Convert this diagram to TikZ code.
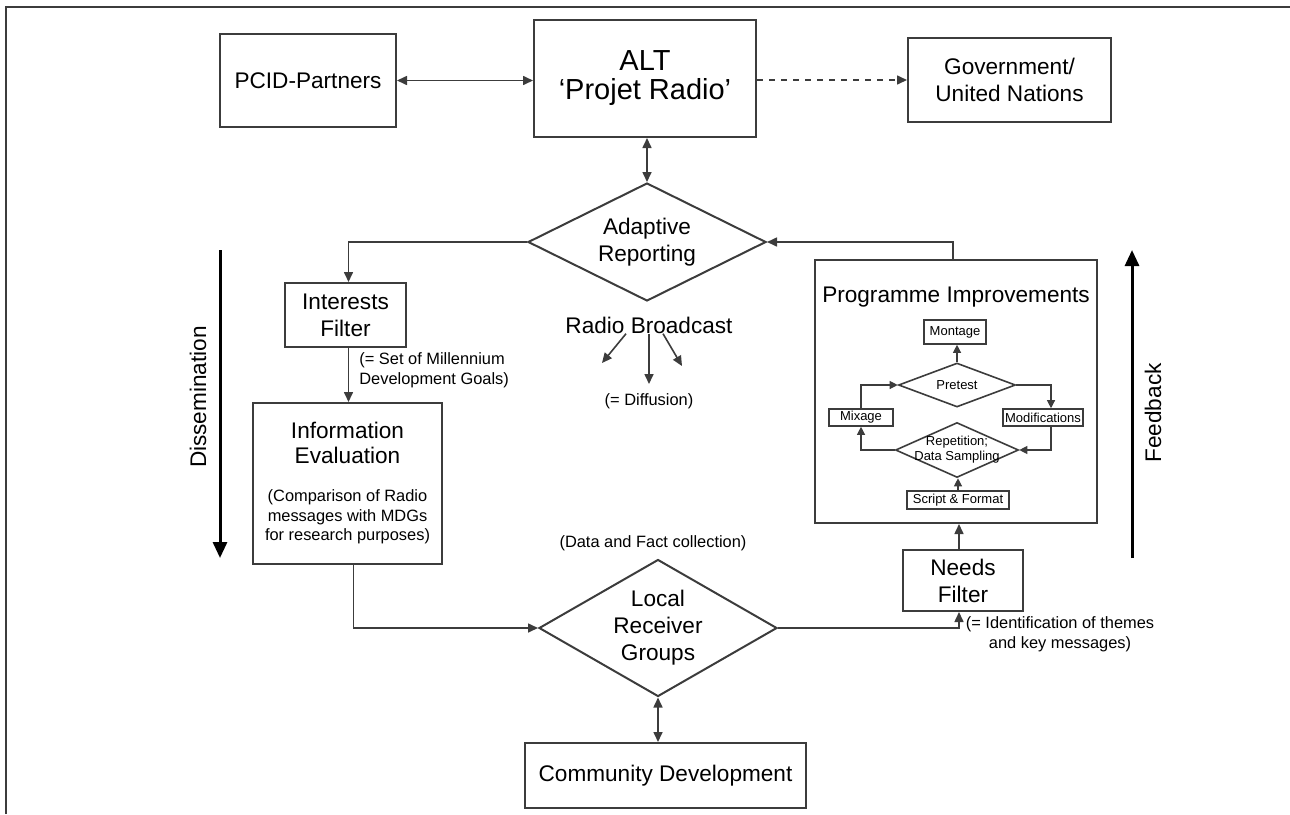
\documentclass[tikz,border=0pt]{standalone}
\usepackage{fontspec}
\setmainfont{Liberation Sans}
\usetikzlibrary{arrows.meta,shapes.geometric}

\definecolor{linegray}{HTML}{3C3C3C}
\newcommand{\txtmain}{\fontsize{11.3}{13.5}\selectfont}
\newcommand{\txtalt}{\fontsize{14.5}{14.5}\selectfont}
\newcommand{\txtnote}{\fontsize{8.2}{9.8}\selectfont}
\newcommand{\txtsmall}{\fontsize{6.5}{7.5}\selectfont}

\begin{document}
\begin{tikzpicture}[x=0.5pt, y=-0.5pt, >={Triangle[length=5pt,width=4.5pt]},
    box/.style={draw=linegray, line width=1pt, inner sep=0pt, align=center, font=\txtmain},
    rhomb/.style={diamond, draw=linegray, line width=1pt, inner sep=0pt, align=center, font=\txtmain},
    smallbox/.style={draw=linegray, line width=0.8pt, inner sep=0pt, font=\txtsmall},
    smallrhomb/.style={diamond, draw=linegray, line width=0.8pt, inner sep=0pt, font=\txtsmall},
    link/.style={draw=linegray, line width=0.8pt},
    smalllink/.style={draw=linegray, line width=0.6pt, -{Triangle[length=4pt,width=4pt]}},
    bigarrow/.style={draw=black, line width=1.5pt, -{Triangle[length=8pt,width=7pt]}},
    note/.style={font=\txtnote, inner sep=0pt}]

\useasboundingbox (0,0) rectangle (1290,814);
\draw[linegray, line width=1.2pt] (6,814) -- (6,7) -- (1290,7);

\node[box, minimum width=88pt, minimum height=46.5pt] (pcid) at (308,80.5) {PCID-Partners};
\node[box, minimum width=111pt, minimum height=58.5pt, font=\txtalt] (alt) at (645,78.5) {ALT\\‘Projet Radio’};
\node[box, minimum width=101.5pt, minimum height=42pt] (gov) at (1009.5,80) {Government/\\United Nations};

\node[rhomb, aspect=2, minimum width=119pt, minimum height=59pt] (adapt) at (647,242) {Adaptive\\Reporting};
\node[box, minimum width=60.5pt, minimum height=32pt] (interest) at (345.5,315) {Interests\\Filter};
\node[note, anchor=west, align=left] (mdg) at (359,370) {(= Set of Millennium\\Development Goals)};
\node[box, minimum width=94.5pt, minimum height=80.5pt] (info) at (347.5,483.5)
    {Information\\[-1pt]Evaluation\\[5.5pt]\txtnote (Comparison of Radio\\[-3.75pt]\txtnote messages with MDGs\\[-3.75pt]\txtnote for research purposes)};

\node[font=\txtmain, inner sep=0pt] (radio) at (649,325) {Radio Broadcast};
\node[note] (diffusion) at (649,401) {(= Diffusion)};
\coordinate (bcleft) at (602,363);
\coordinate (bcmid) at (649,384);
\coordinate (bcright) at (682,366);

\node[rhomb, aspect=1.74, minimum width=119pt, minimum height=68.5pt] (lrg) at (658,628) {Local\\Receiver\\Groups};
\node[note] (facts) at (653,543) {(Data and Fact collection)};
\node[box, minimum width=140.5pt, minimum height=32.5pt] (comm) at (665.5,775.5) {Community Development};

\node[box, minimum width=60pt, minimum height=30.5pt] (needs) at (963,580.5) {Needs\\Filter};
\node[note, align=center] (themes) at (1060,634) {(= Identification of themes\\and key messages)};

\node[box, minimum width=141pt, minimum height=131.5pt] (prog) at (956,391.5) {};
\node[font=\txtmain, inner sep=0pt] (progtitle) at (956,297) {Programme Improvements};
\node[smallbox, minimum width=31pt, minimum height=12pt] (montage) at (955,332) {Montage};
\node[smallrhomb, aspect=2.66, minimum width=58.5pt, minimum height=22pt] (pretest) at (957,385) {Pretest};
\node[smallbox, minimum width=32pt, minimum height=8.5pt] (mixage) at (861,417.5) {Mixage};
\node[smallbox, minimum width=40pt, minimum height=8.5pt] (modif) at (1043,417.5) {Modifications};
\node[smallrhomb, minimum width=61.5pt, minimum height=27.5pt,
    label={[font=\txtsmall, align=center]center:Repetition;\\Data Sampling}] (repet) at (957,450) {};
\node[smallbox, minimum width=51pt, minimum height=9pt] (script) at (958,500) {Script \& Format};

\coordinate (distop) at (220,250);
\coordinate (disbot) at (220,558);
\node[font=\txtmain, rotate=90, inner sep=0pt] (dissem) at (198,397) {Dissemination};
\coordinate (fbbot) at (1132,558);
\coordinate (fbtop) at (1132,250);
\node[font=\txtmain, rotate=90, inner sep=0pt] (feedback) at (1153,413) {Feedback};

\draw[link, <->] (pcid.east) -- (pcid.east -| alt.west);
\draw[link, dashed, ->] (gov.west -| alt.east) -- (gov.west);
\draw[link, <->] (adapt.north |- alt.south) -- (adapt.north);
\draw[link, ->] (adapt.west) -| ([xshift=1.5pt]interest.north);
\draw[link, ->] ([xshift=1.5pt]interest.south) -- ([xshift=1.5pt]interest.south |- info.north);
\draw[link, ->] ([xshift=3pt]info.south) |- (lrg.west);
\draw[link, <->] (lrg.south) -- (lrg.south |- comm.north);
\draw[link, ->] (lrg.east) -| ([xshift=-2pt]needs.south);
\draw[link, ->] ([xshift=-2pt]needs.north) -- ([xshift=-2pt]needs.north |- prog.south);
\draw[link, ->] ([xshift=-1.5pt]prog.north) |- (adapt.east);

\draw[link, ->] ([xshift=-11.5pt]radio.south) -- (bcleft);
\draw[link, ->] (radio.south) -- (bcmid);
\draw[link, ->] ([xshift=7pt]radio.south) -- (bcright);

\draw[smalllink] (pretest.north) -- (pretest.north |- montage.south);
\draw[smalllink] (script.north) -- (script.north |- repet.south);
\draw[smalllink] (repet.west) -| (mixage.south);
\draw[smalllink] (mixage.north) |- (pretest.west);
\draw[smalllink] (pretest.east) -| ([xshift=4pt]modif.north);
\draw[smalllink] ([xshift=4pt]modif.south) |- (repet.east);

\draw[bigarrow] (distop) -- (disbot);
\draw[bigarrow] (fbbot) -- (fbtop);
\end{tikzpicture}
\end{document}
